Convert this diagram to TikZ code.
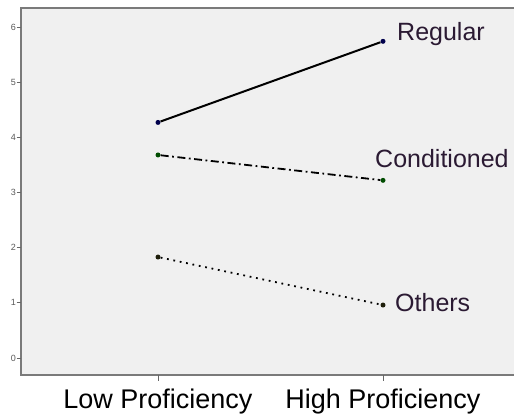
\documentclass[tikz,border=0pt]{standalone}
\usepackage{fontspec}
\setmainfont{Liberation Sans}
\usetikzlibrary{positioning}
\definecolor{plotbg}{HTML}{F0F0F0}
\definecolor{frame}{HTML}{7A7A7A}
\definecolor{lblcol}{HTML}{2B1A33}
\definecolor{othdot}{HTML}{1E1E0A}
\begin{document}
\begin{tikzpicture}
[x=1pt, y=1pt,
 mean/.style={circle, inner sep=0pt, minimum size=5pt},
 grp/.style={text=lblcol, font=\fontsize{25}{25}\selectfont, inner sep=0pt, anchor=west},
 cat/.style={font=\fontsize{27}{27}\selectfont, inner sep=0pt, anchor=base},
 ticklbl/.style={font=\fontsize{9}{9}\selectfont, text=black!65, inner sep=0pt, anchor=east}]
\useasboundingbox (0,0) rectangle (514,415);
\fill[plotbg] (21,40) rectangle (514,407);
\draw[frame, line width=1.2pt] (514,407) -- (21,407) -- (21,40) -- (514,40);
% value axis: 0 at y=57, one unit = 55.17pt
\begin{scope}[shift={(0,57)}, y=55.17pt]
\foreach \v in {0,...,6} {
  \draw[black!60, line width=0.9pt] (16.5,\v) -- (21,\v);
  \node[ticklbl] (tick\v) at (16,\v) {\v};
}
\node[mean, fill=blue!30!black] (regLow) at (158,4.27) {};
\node[mean, fill=blue!30!black] (regHigh) at (383,5.74) {};
\node[mean, fill=green!30!black] (condLow) at (158,3.68) {};
\node[mean, fill=green!30!black] (condHigh) at (383,3.22) {};
\node[mean, fill=othdot] (othLow) at (158,1.83) {};
\node[mean, fill=othdot] (othHigh) at (383,0.96) {};
\end{scope}
\draw[line width=2pt] (regLow) -- (regHigh);
\draw[line width=1.8pt, dash pattern=on 8pt off 3.5pt on 1.8pt off 3.5pt] (condLow) -- (condHigh);
\draw[line width=1.8pt, dash pattern=on 1.8pt off 4.7pt] (othLow) -- (othHigh);
\node[grp] (regLbl) at ([xshift=14pt,yshift=7pt]regHigh) {Regular};
\node[grp] (condLbl) at ([xshift=-8pt,yshift=22pt]condHigh) {Conditioned};
\node[grp] (othLbl) at ([xshift=12pt,yshift=2pt]othHigh) {Others};
% category axis
\draw[black!60, line width=0.9pt] (158,40) -- (158,34);
\draw[black!60, line width=0.9pt] (383,40) -- (383,34);
\node[cat] (low) at (158,7) {Low Proficiency};
\node[cat] (high) at (383,7) {High Proficiency};
\end{tikzpicture}
\end{document}
